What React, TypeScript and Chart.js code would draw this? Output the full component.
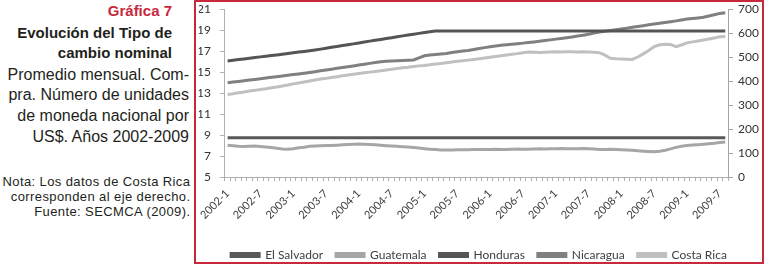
import React, { useEffect, useRef } from "react";
import { Chart, registerables } from "chart.js";

Chart.register(...registerables);

const CATEGORIES = [
  "2002-1","2002-2","2002-3","2002-4","2002-5","2002-6","2002-7","2002-8","2002-9","2002-10","2002-11","2002-12",
  "2003-1","2003-2","2003-3","2003-4","2003-5","2003-6","2003-7","2003-8","2003-9","2003-10","2003-11","2003-12",
  "2004-1","2004-2","2004-3","2004-4","2004-5","2004-6","2004-7","2004-8","2004-9","2004-10","2004-11","2004-12",
  "2005-1","2005-2","2005-3","2005-4","2005-5","2005-6","2005-7","2005-8","2005-9","2005-10","2005-11","2005-12",
  "2006-1","2006-2","2006-3","2006-4","2006-5","2006-6","2006-7","2006-8","2006-9","2006-10","2006-11","2006-12",
  "2007-1","2007-2","2007-3","2007-4","2007-5","2007-6","2007-7","2007-8","2007-9","2007-10","2007-11","2007-12",
  "2008-1","2008-2","2008-3","2008-4","2008-5","2008-6","2008-7","2008-8","2008-9","2008-10","2008-11","2008-12",
  "2009-1","2009-2","2009-3","2009-4","2009-5","2009-6","2009-7","2009-8",
];

const SERIES_NAMES = ["El Salvador", "Guatemala", "Honduras", "Nicaragua", "Costa Rica"];

const EL_SALVADOR = [
  8.75,8.75,8.75,8.75,8.75,8.75,8.75,8.75,8.75,8.75,8.75,8.75,
  8.75,8.75,8.75,8.75,8.75,8.75,8.75,8.75,8.75,8.75,8.75,8.75,
  8.75,8.75,8.75,8.75,8.75,8.75,8.75,8.75,8.75,8.75,8.75,8.75,
  8.75,8.75,8.75,8.75,8.75,8.75,8.75,8.75,8.75,8.75,8.75,8.75,
  8.75,8.75,8.75,8.75,8.75,8.75,8.75,8.75,8.75,8.75,8.75,8.75,
  8.75,8.75,8.75,8.75,8.75,8.75,8.75,8.75,8.75,8.75,8.75,8.75,
  8.75,8.75,8.75,8.75,8.75,8.75,8.75,8.75,8.75,8.75,8.75,8.75,
  8.75,8.75,8.75,8.75,8.75,8.75,8.75,8.75,
];

const GUATEMALA = [
  8.02,7.98,7.93,7.90,7.92,7.95,7.91,7.85,7.80,7.73,7.66,7.64,
  7.70,7.78,7.84,7.92,7.96,7.98,8.00,8.01,8.03,8.06,8.10,8.12,
  8.14,8.13,8.10,8.06,8.02,7.98,7.95,7.92,7.89,7.86,7.82,7.76,
  7.70,7.65,7.61,7.58,7.57,7.58,7.60,7.60,7.59,7.61,7.62,7.61,
  7.63,7.64,7.63,7.62,7.64,7.66,7.65,7.64,7.66,7.68,7.67,7.68,
  7.70,7.71,7.69,7.68,7.70,7.71,7.69,7.66,7.63,7.62,7.64,7.63,
  7.60,7.58,7.55,7.50,7.46,7.43,7.41,7.45,7.55,7.68,7.82,7.93,
  8.00,8.04,8.08,8.12,8.17,8.22,8.28,8.33,
];

const HONDURAS = [
  16.05,16.11,16.18,16.24,16.31,16.37,16.44,16.50,16.57,16.63,16.70,16.76,
  16.83,16.90,16.96,17.03,17.10,17.18,17.27,17.35,17.43,17.52,17.60,17.68,
  17.77,17.85,17.94,18.02,18.10,18.19,18.27,18.36,18.44,18.52,18.60,18.68,
  18.76,18.84,18.90,18.90,18.90,18.90,18.90,18.90,18.90,18.90,18.90,18.90,
  18.90,18.90,18.90,18.90,18.90,18.90,18.90,18.90,18.90,18.90,18.90,18.90,
  18.90,18.90,18.90,18.90,18.90,18.90,18.90,18.90,18.90,18.90,18.90,18.90,
  18.90,18.90,18.90,18.90,18.90,18.90,18.90,18.90,18.90,18.90,18.90,18.90,
  18.90,18.90,18.90,18.90,18.90,18.90,18.90,18.90,
];

const NICARAGUA = [
  13.98,14.04,14.10,14.16,14.23,14.29,14.36,14.42,14.49,14.55,14.62,14.69,
  14.76,14.82,14.89,14.96,15.03,15.11,15.19,15.27,15.35,15.42,15.50,15.58,
  15.66,15.74,15.82,15.90,15.97,16.02,16.05,16.08,16.10,16.12,16.15,16.35,
  16.55,16.62,16.67,16.72,16.77,16.85,16.93,17.00,17.05,17.14,17.23,17.32,
  17.40,17.47,17.54,17.60,17.65,17.70,17.75,17.80,17.86,17.92,17.99,18.06,
  18.13,18.20,18.27,18.34,18.42,18.50,18.60,18.70,18.80,18.88,18.95,19.02,
  19.10,19.18,19.26,19.33,19.41,19.50,19.58,19.65,19.72,19.79,19.87,19.96,
  20.05,20.10,20.15,20.21,20.33,20.46,20.58,20.65,
];

const COSTA_RICA = [
  344,347,351,354,358,361,365,368,372,375,379,383,
  388,392,396,400,404,408,411,415,418,422,425,428,
  431,434,437,440,443,446,449,452,455,457,460,463,
  465,468,471,473,476,479,482,484,487,490,493,496,
  499,502,505,508,511,514,518,521,520,519,520,521,
  522,521,522,522,521,522,521,520,518,508,495,493,
  492,491,490,500,513,527,543,551,553,552,543,550,
  559,563,567,571,575,579,584,585,
];

const LEFT_MIN = 5;
const LEFT_MAX = 21;
const LEFT_STEP = 2;
const RIGHT_MIN = 0;
const RIGHT_MAX = 700;
const RIGHT_STEP = 100;

const FONT = "Lato, 'Liberation Sans', sans-serif";
const TEXT_FONT = "'Liberation Sans', Arial, Helvetica, sans-serif";

function ChartBox() {
  const ref = useRef<HTMLCanvasElement | null>(null);

  useEffect(() => {
    if (!ref.current) return;
    const colors = ["#595959", "#a6a6a6", "#555555", "#808080", "#c0c0c0"];
    const values = [EL_SALVADOR, GUATEMALA, HONDURAS, NICARAGUA, COSTA_RICA];
    const axes = ["y", "y", "y", "y", "y1"];
    const chart = new Chart(ref.current, {
      type: "line",
      data: {
        labels: CATEGORIES,
        datasets: SERIES_NAMES.map((name, i) => ({
          label: name,
          data: values[i],
          borderColor: colors[i],
          backgroundColor: colors[i],
          borderWidth: 3,
          pointRadius: 0,
          tension: 0,
          yAxisID: axes[i],
        })),
      },
      options: {
        animation: false,
        responsive: false,
        maintainAspectRatio: false,
        layout: { padding: { left: 0, right: 0, top: 0, bottom: 0 } },
        plugins: {
          legend: {
            position: "bottom",
            labels: {
              boxWidth: 28,
              boxHeight: 3,
              padding: 13,
              color: "#404040",
              font: { family: FONT, size: 12 },
            },
          },
          tooltip: { enabled: false },
        },
        scales: {
          x: {
            type: "category",
            offset: true,
            afterFit: (s: any) => { s.height = 59; },
            grid: {
              display: true,
              drawOnChartArea: false,
              drawTicks: true,
              tickLength: 4,
              offset: true,
              color: "#b0b0b0",
            },
            border: { display: true, color: "#b0b0b0", width: 1 },
            ticks: {
              autoSkip: false,
              minRotation: 45,
              maxRotation: 45,
              padding: 6,
              color: "#404040",
              font: { family: FONT, size: 11 },
              callback: function (this: any, val: any, idx: number) {
                return idx % 6 === 0 ? CATEGORIES[idx] : "";
              },
            },
          },
          y: {
            position: "left",
            min: LEFT_MIN,
            max: LEFT_MAX,
            afterFit: (s: any) => { s.width = 26; s.paddingTop = 7; s.paddingBottom = 7; },
            grid: { display: true, drawOnChartArea: false, drawTicks: true, tickLength: 5, color: "#b0b0b0" },
            border: { display: true, color: "#b0b0b0", width: 1 },
            ticks: {
              stepSize: LEFT_STEP,
              padding: 9,
              color: "#333333",
              font: { family: FONT, size: 12 },
            },
          },
          y1: {
            position: "right",
            min: RIGHT_MIN,
            max: RIGHT_MAX,
            afterFit: (s: any) => { s.width = 34; s.paddingTop = 7; s.paddingBottom = 7; },
            grid: { display: true, drawOnChartArea: false, drawTicks: true, tickLength: 5, color: "#a6a6a6" },
            border: { display: true, color: "#a6a6a6", width: 1 },
            ticks: {
              stepSize: RIGHT_STEP,
              padding: 5,
              color: "#333333",
              font: { family: FONT, size: 12 },
            },
          },
        },
      },
    } as any);
    return () => chart.destroy();
  }, []);

  return (
    <canvas
      ref={ref}
      width={566}
      height={269}
      style={{ position: "absolute", left: 0, top: 0, width: 566, height: 269, display: "block" }}
    />
  );
}

function Line(props: { text: string; top: number; right: number; size: number; bold?: boolean; color?: string; spacing?: number }) {
  return (
    <div
      style={{
        position: "absolute",
        right: 766 - props.right,
        top: props.top,
        fontFamily: TEXT_FONT,
        fontSize: props.size,
        lineHeight: `${props.size}px`,
        fontWeight: props.bold ? 700 : 400,
        letterSpacing: props.spacing ? `${props.spacing}px` : "normal",
        color: props.color || "#231f20",
        whiteSpace: "nowrap",
        textAlign: "right",
      }}
    >
      {props.text}
    </div>
  );
}

export default function App() {
  return (
    <div style={{ position: "absolute", left: 0, top: 0, width: 766, height: 264, background: "#ffffff", overflow: "hidden" }}>
      <Line text="Gráfica 7" top={3} right={172} size={15} bold color="#c8283c" />
      <Line text="Evolución del Tipo de" top={24.6} right={172} size={15} bold />
      <Line text="cambio nominal" top={45.3} right={172} size={15} bold />
      <Line text="Promedio mensual. Com-" top={66.5} right={189} size={16} />
      <Line text="pra. Número de unidades" top={87.3} right={189} size={16} />
      <Line text="de moneda nacional por" top={108.1} right={189} size={16} />
      <Line text="US$. Años 2002-2009" top={128.9} right={189} size={16} />
      <Line text="Nota: Los datos de Costa Rica" top={174.5} right={190.4} size={13} spacing={0.4} />
      <Line text="corresponden al eje derecho." top={189.5} right={190.4} size={13} spacing={0.4} />
      <Line text="Fuente: SECMCA (2009)." top={204.5} right={190.4} size={13} spacing={0.4} />
      <div
        style={{
          position: "absolute",
          left: 194,
          top: 0,
          width: 570,
          height: 264,
          boxSizing: "border-box",
          border: "2px solid #c8283c",
          overflow: "hidden",
        }}
      >
        <ChartBox />
      </div>
    </div>
  );
}
